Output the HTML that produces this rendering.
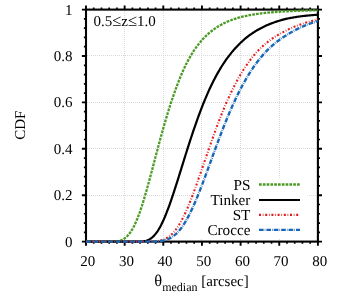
<!DOCTYPE html>
<html><head><meta charset="utf-8"><title>CDF</title>
<style>html,body{margin:0;padding:0;background:#fff}svg{display:block;will-change:transform}text{text-rendering:geometricPrecision;font-family:"Liberation Serif",serif;fill:#000}</style></head>
<body>
<svg width="353" height="303" viewBox="0 0 353 303">
<rect width="353" height="303" fill="#fff"/>
<path d="M124.5,11.0 V241.6 M163.5,11.0 V241.6 M201.5,11.0 V241.6 M240.5,11.0 V241.6 M279.5,11.0 V241.6 M87.0,195.5 H317.9 M87.0,148.5 H317.9 M87.0,102.5 H317.9 M87.0,55.5 H317.9" stroke="#dadada" stroke-width="1" stroke-dasharray="1 1" fill="none"/>
<rect x="195" y="177.7" width="112.6" height="61" fill="#fff"/>
<path d="M86.00,241.6 v4.1 M86.00,9.6 v-4.1 M124.65,241.6 v4.1 M124.65,9.6 v-4.1 M163.30,241.6 v4.1 M163.30,9.6 v-4.1 M201.95,241.6 v4.1 M201.95,9.6 v-4.1 M240.60,241.6 v4.1 M240.60,9.6 v-4.1 M279.25,241.6 v4.1 M279.25,9.6 v-4.1 M317.90,241.6 v4.1 M317.90,9.6 v-4.1 M86.0,241.60 h-4.1 M317.9,241.60 h4.1 M86.0,195.20 h-4.1 M317.9,195.20 h4.1 M86.0,148.80 h-4.1 M317.9,148.80 h4.1 M86.0,102.40 h-4.1 M317.9,102.40 h4.1 M86.0,56.00 h-4.1 M317.9,56.00 h4.1 M86.0,9.60 h-4.1 M317.9,9.60 h4.1" stroke="#000" stroke-width="1.9" fill="none"/>
<path d="M93.73,241.6 v2.1 M93.73,9.6 v-2.1 M101.46,241.6 v2.1 M101.46,9.6 v-2.1 M109.19,241.6 v2.1 M109.19,9.6 v-2.1 M116.92,241.6 v2.1 M116.92,9.6 v-2.1 M132.38,241.6 v2.1 M132.38,9.6 v-2.1 M140.11,241.6 v2.1 M140.11,9.6 v-2.1 M147.84,241.6 v2.1 M147.84,9.6 v-2.1 M155.57,241.6 v2.1 M155.57,9.6 v-2.1 M171.03,241.6 v2.1 M171.03,9.6 v-2.1 M178.76,241.6 v2.1 M178.76,9.6 v-2.1 M186.49,241.6 v2.1 M186.49,9.6 v-2.1 M194.22,241.6 v2.1 M194.22,9.6 v-2.1 M209.68,241.6 v2.1 M209.68,9.6 v-2.1 M217.41,241.6 v2.1 M217.41,9.6 v-2.1 M225.14,241.6 v2.1 M225.14,9.6 v-2.1 M232.87,241.6 v2.1 M232.87,9.6 v-2.1 M248.33,241.6 v2.1 M248.33,9.6 v-2.1 M256.06,241.6 v2.1 M256.06,9.6 v-2.1 M263.79,241.6 v2.1 M263.79,9.6 v-2.1 M271.52,241.6 v2.1 M271.52,9.6 v-2.1 M286.98,241.6 v2.1 M286.98,9.6 v-2.1 M294.71,241.6 v2.1 M294.71,9.6 v-2.1 M302.44,241.6 v2.1 M302.44,9.6 v-2.1 M310.17,241.6 v2.1 M310.17,9.6 v-2.1 M86.0,232.32 h-2.1 M317.9,232.32 h2.1 M86.0,223.04 h-2.1 M317.9,223.04 h2.1 M86.0,213.76 h-2.1 M317.9,213.76 h2.1 M86.0,204.48 h-2.1 M317.9,204.48 h2.1 M86.0,185.92 h-2.1 M317.9,185.92 h2.1 M86.0,176.64 h-2.1 M317.9,176.64 h2.1 M86.0,167.36 h-2.1 M317.9,167.36 h2.1 M86.0,158.08 h-2.1 M317.9,158.08 h2.1 M86.0,139.52 h-2.1 M317.9,139.52 h2.1 M86.0,130.24 h-2.1 M317.9,130.24 h2.1 M86.0,120.96 h-2.1 M317.9,120.96 h2.1 M86.0,111.68 h-2.1 M317.9,111.68 h2.1 M86.0,93.12 h-2.1 M317.9,93.12 h2.1 M86.0,83.84 h-2.1 M317.9,83.84 h2.1 M86.0,74.56 h-2.1 M317.9,74.56 h2.1 M86.0,65.28 h-2.1 M317.9,65.28 h2.1 M86.0,46.72 h-2.1 M317.9,46.72 h2.1 M86.0,37.44 h-2.1 M317.9,37.44 h2.1 M86.0,28.16 h-2.1 M317.9,28.16 h2.1 M86.0,18.88 h-2.1 M317.9,18.88 h2.1" stroke="#000" stroke-width="1.7" fill="none"/>
<rect x="86.0" y="9.6" width="231.89999999999998" height="232.0" fill="none" stroke="#000" stroke-width="2.1"/>
<clipPath id="c"><rect x="86.0" y="7.6" width="231.89999999999998" height="236.0"/></clipPath>
<g clip-path="url(#c)" fill="none">
<path d="M86.00,241.60 L86.97,241.60 L87.93,241.60 L88.90,241.60 L89.86,241.60 L90.83,241.60 L91.80,241.60 L92.76,241.60 L93.73,241.60 L94.70,241.60 L95.66,241.60 L96.63,241.60 L97.59,241.60 L98.56,241.60 L99.53,241.60 L100.49,241.60 L101.46,241.60 L102.43,241.60 L103.39,241.60 L104.36,241.60 L105.32,241.60 L106.29,241.60 L107.26,241.60 L108.22,241.59 L109.19,241.59 L110.16,241.58 L111.12,241.57 L112.09,241.55 L113.05,241.52 L114.02,241.48 L114.99,241.42 L115.95,241.34 L116.92,241.22 L117.89,241.08 L118.85,240.88 L119.82,240.64 L120.78,240.34 L121.75,239.96 L122.72,239.51 L123.68,238.96 L124.65,238.32 L125.62,237.59 L126.58,236.76 L127.55,235.80 L128.51,234.73 L129.48,233.52 L130.45,232.19 L131.41,230.72 L132.38,229.11 L133.35,227.36 L134.31,225.47 L135.28,223.45 L136.25,221.28 L137.21,218.99 L138.18,216.56 L139.14,214.01 L140.11,211.34 L141.08,208.48 L142.04,205.51 L143.01,202.44 L143.97,199.26 L144.94,196.00 L145.91,192.66 L146.87,189.25 L147.84,185.77 L148.81,182.25 L149.77,178.67 L150.74,175.06 L151.70,171.42 L152.67,167.76 L153.64,164.09 L154.60,160.42 L155.57,156.75 L156.54,153.08 L157.50,149.44 L158.47,145.81 L159.44,142.21 L160.40,138.65 L161.37,135.12 L162.33,131.63 L163.30,128.19 L164.27,124.80 L165.23,121.46 L166.20,118.17 L167.16,114.95 L168.13,111.78 L169.10,108.68 L170.06,105.64 L171.03,102.67 L172.00,99.76 L172.96,96.91 L173.93,94.14 L174.89,91.43 L175.86,88.73 L176.83,86.10 L177.79,83.54 L178.76,81.04 L179.73,78.62 L180.69,76.27 L181.66,73.99 L182.62,71.78 L183.59,69.63 L184.56,67.55 L185.52,65.53 L186.49,63.58 L187.46,61.69 L188.42,59.86 L189.39,58.08 L190.35,56.37 L191.32,54.76 L192.29,53.19 L193.25,51.68 L194.22,50.22 L195.19,48.81 L196.15,47.44 L197.12,46.12 L198.08,44.85 L199.05,43.61 L200.02,42.43 L200.98,41.28 L201.95,40.17 L202.92,39.10 L203.88,38.07 L204.85,37.07 L205.81,36.11 L206.78,35.18 L207.75,34.29 L208.71,33.43 L209.68,32.59 L210.65,31.79 L211.61,31.02 L212.58,30.27 L213.55,29.55 L214.51,28.86 L215.48,28.19 L216.44,27.54 L217.41,26.92 L218.38,26.32 L219.34,25.74 L220.31,25.19 L221.28,24.65 L222.24,24.13 L223.21,23.63 L224.17,23.15 L225.14,22.69 L226.11,22.24 L227.07,21.81 L228.04,21.39 L229.00,20.99 L229.97,20.61 L230.94,20.23 L231.90,19.87 L232.87,19.53 L233.84,19.19 L234.80,18.87 L235.77,18.56 L236.73,18.26 L237.70,17.97 L238.67,17.70 L239.63,17.43 L240.60,17.17 L241.57,16.92 L242.53,16.68 L243.50,16.45 L244.46,16.22 L245.43,16.01 L246.40,15.80 L247.36,15.60 L248.33,15.40 L249.30,15.21 L250.26,15.03 L251.23,14.86 L252.19,14.69 L253.16,14.53 L254.13,14.37 L255.09,14.22 L256.06,14.07 L257.03,13.93 L257.99,13.79 L258.96,13.66 L259.92,13.54 L260.89,13.41 L261.86,13.29 L262.82,13.18 L263.79,13.07 L264.76,12.96 L265.72,12.86 L266.69,12.76 L267.65,12.66 L268.62,12.57 L269.59,12.48 L270.55,12.39 L271.52,12.31 L272.49,12.23 L273.45,12.15 L274.42,12.07 L275.38,12.00 L276.35,11.93 L277.32,11.86 L278.28,11.79 L279.25,11.73 L280.22,11.66 L281.18,11.60 L282.15,11.54 L283.12,11.49 L284.08,11.43 L285.05,11.38 L286.01,11.33 L286.98,11.28 L287.95,11.23 L288.91,11.18 L289.88,11.14 L290.84,11.10 L291.81,11.05 L292.78,11.01 L293.74,10.97 L294.71,10.93 L295.68,10.90 L296.64,10.86 L297.61,10.83 L298.57,10.79 L299.54,10.76 L300.51,10.73 L301.47,10.70 L302.44,10.67 L303.41,10.64 L304.37,10.61 L305.34,10.58 L306.30,10.56 L307.27,10.53 L308.24,10.51 L309.20,10.48 L310.17,10.46 L311.14,10.44 L312.10,10.41 L313.07,10.39 L314.03,10.37 L315.00,10.35 L315.97,10.33 L316.93,10.31 L317.90,10.29" stroke="#4c9a26" stroke-width="2.3" stroke-dasharray="2.7 1.1"/>
<path d="M86.00,241.60 L86.97,241.60 L87.93,241.60 L88.90,241.60 L89.86,241.60 L90.83,241.60 L91.80,241.60 L92.76,241.60 L93.73,241.60 L94.70,241.60 L95.66,241.60 L96.63,241.60 L97.59,241.60 L98.56,241.60 L99.53,241.60 L100.49,241.60 L101.46,241.60 L102.43,241.60 L103.39,241.60 L104.36,241.60 L105.32,241.60 L106.29,241.60 L107.26,241.60 L108.22,241.60 L109.19,241.60 L110.16,241.60 L111.12,241.60 L112.09,241.60 L113.05,241.60 L114.02,241.60 L114.99,241.60 L115.95,241.60 L116.92,241.60 L117.89,241.60 L118.85,241.60 L119.82,241.60 L120.78,241.60 L121.75,241.60 L122.72,241.60 L123.68,241.60 L124.65,241.60 L125.62,241.60 L126.58,241.60 L127.55,241.60 L128.51,241.60 L129.48,241.60 L130.45,241.60 L131.41,241.60 L132.38,241.60 L133.35,241.60 L134.31,241.60 L135.28,241.60 L136.25,241.59 L137.21,241.59 L138.18,241.58 L139.14,241.56 L140.11,241.52 L141.08,241.48 L142.04,241.41 L143.01,241.31 L143.97,241.17 L144.94,240.99 L145.91,240.76 L146.87,240.47 L147.84,240.11 L148.81,239.68 L149.77,239.16 L150.74,238.55 L151.70,237.84 L152.67,237.03 L153.64,236.11 L154.60,235.08 L155.57,233.93 L156.54,232.66 L157.50,231.28 L158.47,229.77 L159.44,228.15 L160.40,226.41 L161.37,224.55 L162.33,222.59 L163.30,220.51 L164.27,218.33 L165.23,216.05 L166.20,213.67 L167.16,211.20 L168.13,208.65 L169.10,206.02 L170.06,203.32 L171.03,200.56 L172.00,197.73 L172.96,194.85 L173.93,191.92 L174.89,188.94 L175.86,185.94 L176.83,182.90 L177.79,179.83 L178.76,176.75 L179.73,173.65 L180.69,170.55 L181.66,167.44 L182.62,164.32 L183.59,161.22 L184.56,158.12 L185.52,155.04 L186.49,151.97 L187.46,148.92 L188.42,145.89 L189.39,142.89 L190.35,139.91 L191.32,136.97 L192.29,134.06 L193.25,131.18 L194.22,128.34 L195.19,125.54 L196.15,122.78 L197.12,120.06 L198.08,117.38 L199.05,114.75 L200.02,112.16 L200.98,109.61 L201.95,107.11 L202.92,104.66 L203.88,102.25 L204.85,99.89 L205.81,97.57 L206.78,95.31 L207.75,93.09 L208.71,90.91 L209.68,88.78 L210.65,86.73 L211.61,84.72 L212.58,82.75 L213.55,80.83 L214.51,78.96 L215.48,77.13 L216.44,75.34 L217.41,73.60 L218.38,71.89 L219.34,70.24 L220.31,68.62 L221.28,67.04 L222.24,65.50 L223.21,64.01 L224.17,62.55 L225.14,61.13 L226.11,59.74 L227.07,58.40 L228.04,57.08 L229.00,55.81 L229.97,54.56 L230.94,53.36 L231.90,52.18 L232.87,51.04 L233.84,49.90 L234.80,48.79 L235.77,47.72 L236.73,46.67 L237.70,45.65 L238.67,44.66 L239.63,43.70 L240.60,42.76 L241.57,41.85 L242.53,40.97 L243.50,40.11 L244.46,39.27 L245.43,38.46 L246.40,37.67 L247.36,36.90 L248.33,36.15 L249.30,35.42 L250.26,34.72 L251.23,34.03 L252.19,33.37 L253.16,32.72 L254.13,32.09 L255.09,31.48 L256.06,30.88 L257.03,30.31 L257.99,29.75 L258.96,29.20 L259.92,28.67 L260.89,28.16 L261.86,27.66 L262.82,27.17 L263.79,26.70 L264.76,26.24 L265.72,25.80 L266.69,25.36 L267.65,24.94 L268.62,24.54 L269.59,24.14 L270.55,23.75 L271.52,23.38 L272.49,23.02 L273.45,22.66 L274.42,22.32 L275.38,21.99 L276.35,21.66 L277.32,21.35 L278.28,21.04 L279.25,20.75 L280.22,20.46 L281.18,20.18 L282.15,19.91 L283.12,19.64 L284.08,19.38 L285.05,19.14 L286.01,18.89 L286.98,18.66 L287.95,18.46 L288.91,18.26 L289.88,18.08 L290.84,17.89 L291.81,17.72 L292.78,17.55 L293.74,17.39 L294.71,17.23 L295.68,17.07 L296.64,16.93 L297.61,16.78 L298.57,16.64 L299.54,16.51 L300.51,16.38 L301.47,16.26 L302.44,16.14 L303.41,16.02 L304.37,15.91 L305.34,15.80 L306.30,15.70 L307.27,15.60 L308.24,15.50 L309.20,15.40 L310.17,15.31 L311.14,15.23 L312.10,15.14 L313.07,15.06 L314.03,14.99 L315.00,14.91 L315.97,14.84 L316.93,14.77 L317.90,14.70" stroke="#000" stroke-width="2.2"/>
<path d="M86.00,241.60 L86.97,241.60 L87.93,241.60 L88.90,241.60 L89.86,241.60 L90.83,241.60 L91.80,241.60 L92.76,241.60 L93.73,241.60 L94.70,241.60 L95.66,241.60 L96.63,241.60 L97.59,241.60 L98.56,241.60 L99.53,241.60 L100.49,241.60 L101.46,241.60 L102.43,241.60 L103.39,241.60 L104.36,241.60 L105.32,241.60 L106.29,241.60 L107.26,241.60 L108.22,241.60 L109.19,241.60 L110.16,241.60 L111.12,241.60 L112.09,241.60 L113.05,241.60 L114.02,241.60 L114.99,241.60 L115.95,241.60 L116.92,241.60 L117.89,241.60 L118.85,241.60 L119.82,241.60 L120.78,241.60 L121.75,241.60 L122.72,241.60 L123.68,241.60 L124.65,241.60 L125.62,241.60 L126.58,241.60 L127.55,241.60 L128.51,241.60 L129.48,241.60 L130.45,241.60 L131.41,241.60 L132.38,241.60 L133.35,241.60 L134.31,241.60 L135.28,241.60 L136.25,241.60 L137.21,241.60 L138.18,241.60 L139.14,241.60 L140.11,241.60 L141.08,241.60 L142.04,241.60 L143.01,241.60 L143.97,241.59 L144.94,241.59 L145.91,241.59 L146.87,241.58 L147.84,241.57 L148.81,241.56 L149.77,241.54 L150.74,241.51 L151.70,241.48 L152.67,241.44 L153.64,241.39 L154.60,241.33 L155.57,241.24 L156.54,241.14 L157.50,241.02 L158.47,240.87 L159.44,240.70 L160.40,240.49 L161.37,240.24 L162.33,239.96 L163.30,239.63 L164.27,239.25 L165.23,238.82 L166.20,238.33 L167.16,237.78 L168.13,237.16 L169.10,236.48 L170.06,235.72 L171.03,234.89 L172.00,233.99 L172.96,233.00 L173.93,231.93 L174.89,230.77 L175.86,229.54 L176.83,228.21 L177.79,226.80 L178.76,225.30 L179.73,223.72 L180.69,222.05 L181.66,220.29 L182.62,218.46 L183.59,216.54 L184.56,214.54 L185.52,212.47 L186.49,210.32 L187.46,208.11 L188.42,205.83 L189.39,203.48 L190.35,201.08 L191.32,198.61 L192.29,196.10 L193.25,193.54 L194.22,190.93 L195.19,188.29 L196.15,185.61 L197.12,182.90 L198.08,180.16 L199.05,177.39 L200.02,174.61 L200.98,171.81 L201.95,169.01 L202.92,166.19 L203.88,163.37 L204.85,160.54 L205.81,157.72 L206.78,154.91 L207.75,152.10 L208.71,149.31 L209.68,146.53 L210.65,143.77 L211.61,141.02 L212.58,138.30 L213.55,135.61 L214.51,132.93 L215.48,130.29 L216.44,127.68 L217.41,125.09 L218.38,122.54 L219.34,120.03 L220.31,117.55 L221.28,115.10 L222.24,112.69 L223.21,110.32 L224.17,107.99 L225.14,105.70 L226.11,103.45 L227.07,101.23 L228.04,99.06 L229.00,96.93 L229.97,94.84 L230.94,92.79 L231.90,90.78 L232.87,88.81 L233.84,86.88 L234.80,84.99 L235.77,83.14 L236.73,81.33 L237.70,79.57 L238.67,77.84 L239.63,76.15 L240.60,74.50 L241.57,72.88 L242.53,71.31 L243.50,69.77 L244.46,68.26 L245.43,66.80 L246.40,65.37 L247.36,63.97 L248.33,62.61 L249.30,61.28 L250.26,59.98 L251.23,58.72 L252.19,57.49 L253.16,56.29 L254.13,55.12 L255.09,53.98 L256.06,52.86 L257.03,51.81 L257.99,50.79 L258.96,49.80 L259.92,48.83 L260.89,47.89 L261.86,46.97 L262.82,46.08 L263.79,45.22 L264.76,44.37 L265.72,43.55 L266.69,42.75 L267.65,41.98 L268.62,41.23 L269.59,40.49 L270.55,39.78 L271.52,39.09 L272.49,38.41 L273.45,37.76 L274.42,37.12 L275.38,36.50 L276.35,35.90 L277.32,35.32 L278.28,34.75 L279.25,34.20 L280.22,33.66 L281.18,33.14 L282.15,32.64 L283.12,32.15 L284.08,31.62 L285.05,31.10 L286.01,30.60 L286.98,30.11 L287.95,29.63 L288.91,29.16 L289.88,28.71 L290.84,28.27 L291.81,27.84 L292.78,27.42 L293.74,27.01 L294.71,26.61 L295.68,26.22 L296.64,25.84 L297.61,25.47 L298.57,25.11 L299.54,24.76 L300.51,24.42 L301.47,24.08 L302.44,23.75 L303.41,23.44 L304.37,23.13 L305.34,22.82 L306.30,22.53 L307.27,22.24 L308.24,21.96 L309.20,21.68 L310.17,21.41 L311.14,21.15 L312.10,20.89 L313.07,20.64 L314.03,20.40 L315.00,20.16 L315.97,19.93 L316.93,19.70 L317.90,19.48" stroke="#e41a1c" stroke-width="2.1" stroke-dasharray="2.0 1.75 0.7 1.75"/>
<path d="M86.00,241.60 L86.97,241.60 L87.93,241.60 L88.90,241.60 L89.86,241.60 L90.83,241.60 L91.80,241.60 L92.76,241.60 L93.73,241.60 L94.70,241.60 L95.66,241.60 L96.63,241.60 L97.59,241.60 L98.56,241.60 L99.53,241.60 L100.49,241.60 L101.46,241.60 L102.43,241.60 L103.39,241.60 L104.36,241.60 L105.32,241.60 L106.29,241.60 L107.26,241.60 L108.22,241.60 L109.19,241.60 L110.16,241.60 L111.12,241.60 L112.09,241.60 L113.05,241.60 L114.02,241.60 L114.99,241.60 L115.95,241.60 L116.92,241.60 L117.89,241.60 L118.85,241.60 L119.82,241.60 L120.78,241.60 L121.75,241.60 L122.72,241.60 L123.68,241.60 L124.65,241.60 L125.62,241.60 L126.58,241.60 L127.55,241.60 L128.51,241.60 L129.48,241.60 L130.45,241.60 L131.41,241.60 L132.38,241.60 L133.35,241.60 L134.31,241.60 L135.28,241.60 L136.25,241.60 L137.21,241.60 L138.18,241.60 L139.14,241.60 L140.11,241.60 L141.08,241.60 L142.04,241.60 L143.01,241.60 L143.97,241.60 L144.94,241.60 L145.91,241.59 L146.87,241.59 L147.84,241.59 L148.81,241.58 L149.77,241.57 L150.74,241.56 L151.70,241.54 L152.67,241.52 L153.64,241.50 L154.60,241.46 L155.57,241.42 L156.54,241.37 L157.50,241.30 L158.47,241.23 L159.44,241.13 L160.40,241.01 L161.37,240.88 L162.33,240.71 L163.30,240.52 L164.27,240.30 L165.23,240.05 L166.20,239.75 L167.16,239.42 L168.13,239.04 L169.10,238.61 L170.06,238.14 L171.03,237.60 L172.00,237.02 L172.96,236.37 L173.93,235.66 L174.89,234.88 L175.86,234.04 L176.83,233.12 L177.79,232.14 L178.76,231.08 L179.73,229.95 L180.69,228.74 L181.66,227.46 L182.62,226.10 L183.59,224.67 L184.56,223.16 L185.52,221.58 L186.49,219.92 L187.46,218.19 L188.42,216.39 L189.39,214.52 L190.35,212.59 L191.32,210.59 L192.29,208.53 L193.25,206.41 L194.22,204.23 L195.19,202.00 L196.15,199.72 L197.12,197.38 L198.08,195.01 L199.05,192.59 L200.02,190.14 L200.98,187.65 L201.95,185.13 L202.92,182.58 L203.88,180.01 L204.85,177.42 L205.81,174.80 L206.78,172.18 L207.75,169.54 L208.71,166.89 L209.68,164.24 L210.65,161.59 L211.61,158.93 L212.58,156.28 L213.55,153.63 L214.51,151.00 L215.48,148.37 L216.44,145.75 L217.41,143.15 L218.38,140.57 L219.34,138.00 L220.31,135.46 L221.28,132.94 L222.24,130.44 L223.21,127.97 L224.17,125.52 L225.14,123.10 L226.11,120.71 L227.07,118.36 L228.04,116.03 L229.00,113.73 L229.97,111.47 L230.94,109.24 L231.90,107.04 L232.87,104.88 L233.84,102.75 L234.80,100.66 L235.77,98.61 L236.73,96.59 L237.70,94.60 L238.67,92.66 L239.63,90.74 L240.60,88.87 L241.57,87.03 L242.53,85.22 L243.50,83.46 L244.46,81.72 L245.43,80.03 L246.40,78.36 L247.36,76.74 L248.33,75.14 L249.30,73.58 L250.26,72.06 L251.23,70.57 L252.19,69.11 L253.16,67.68 L254.13,66.29 L255.09,64.92 L256.06,63.59 L257.03,62.29 L257.99,61.02 L258.96,59.78 L259.92,58.57 L260.89,57.39 L261.86,56.23 L262.82,55.10 L263.79,54.00 L264.76,52.95 L265.72,51.92 L266.69,50.92 L267.65,49.94 L268.62,48.99 L269.59,48.06 L270.55,47.15 L271.52,46.27 L272.49,45.41 L273.45,44.57 L274.42,43.75 L275.38,42.95 L276.35,42.18 L277.32,41.42 L278.28,40.69 L279.25,39.97 L280.22,39.27 L281.18,38.59 L282.15,37.93 L283.12,37.28 L284.08,36.65 L285.05,36.04 L286.01,35.45 L286.98,34.87 L287.95,34.25 L288.91,33.65 L289.88,33.07 L290.84,32.50 L291.81,31.95 L292.78,31.40 L293.74,30.87 L294.71,30.36 L295.68,29.85 L296.64,29.36 L297.61,28.88 L298.57,28.41 L299.54,27.96 L300.51,27.51 L301.47,27.07 L302.44,26.65 L303.41,26.23 L304.37,25.83 L305.34,25.43 L306.30,25.05 L307.27,24.67 L308.24,24.30 L309.20,23.94 L310.17,23.59 L311.14,23.24 L312.10,22.91 L313.07,22.58 L314.03,22.26 L315.00,21.95 L315.97,21.64 L316.93,21.34 L317.90,21.05" stroke="#1868b7" stroke-width="2.4" stroke-dasharray="4.6 1.1 0.6 1.1"/>
</g>
<text x="72.5" y="246.60" font-size="15" text-anchor="end">0</text>
<text x="72.5" y="200.20" font-size="15" text-anchor="end">0.2</text>
<text x="72.5" y="153.80" font-size="15" text-anchor="end">0.4</text>
<text x="72.5" y="107.40" font-size="15" text-anchor="end">0.6</text>
<text x="72.5" y="61.00" font-size="15" text-anchor="end">0.8</text>
<text x="72.5" y="14.60" font-size="15" text-anchor="end">1</text>
<text x="87.80" y="266" font-size="15" text-anchor="middle">20</text>
<text x="126.45" y="266" font-size="15" text-anchor="middle">30</text>
<text x="165.10" y="266" font-size="15" text-anchor="middle">40</text>
<text x="203.75" y="266" font-size="15" text-anchor="middle">50</text>
<text x="242.40" y="266" font-size="15" text-anchor="middle">60</text>
<text x="281.05" y="266" font-size="15" text-anchor="middle">70</text>
<text x="319.70" y="266" font-size="15" text-anchor="middle">80</text>
<text transform="translate(24.8,125.2) rotate(-90)" font-size="15" text-anchor="middle">CDF</text>
<text x="154.3" y="286.2" font-size="15"><tspan font-size="16.4">θ</tspan><tspan font-size="12" dy="5.1">median</tspan><tspan dy="-5.1"> [arcsec]</tspan></text>
<text x="93.4" y="26.4" font-size="15">0.5<tspan font-size="16.6">≤</tspan>z<tspan font-size="16.6">≤</tspan>1.0</text>
<text x="250.4" y="189.60" font-size="15.2" text-anchor="end">PS</text>
<path d="M259,184.5 H300" fill="none" stroke="#4c9a26" stroke-width="2.3" stroke-dasharray="2.7 1.1"/>
<text x="250.4" y="204.70" font-size="15.2" text-anchor="end">Tinker</text>
<path d="M259,200.0 H300" fill="none" stroke="#000" stroke-width="2.2"/>
<text x="250.4" y="219.80" font-size="15.2" text-anchor="end">ST</text>
<path d="M259,214.9 H300" fill="none" stroke="#e41a1c" stroke-width="2.1" stroke-dasharray="2.0 1.75 0.7 1.75"/>
<text x="250.4" y="235.00" font-size="15.2" text-anchor="end">Crocce</text>
<path d="M259,229.9 H300" fill="none" stroke="#1868b7" stroke-width="2.4" stroke-dasharray="4.6 1.1 0.6 1.1"/>
</svg>
</body></html>
